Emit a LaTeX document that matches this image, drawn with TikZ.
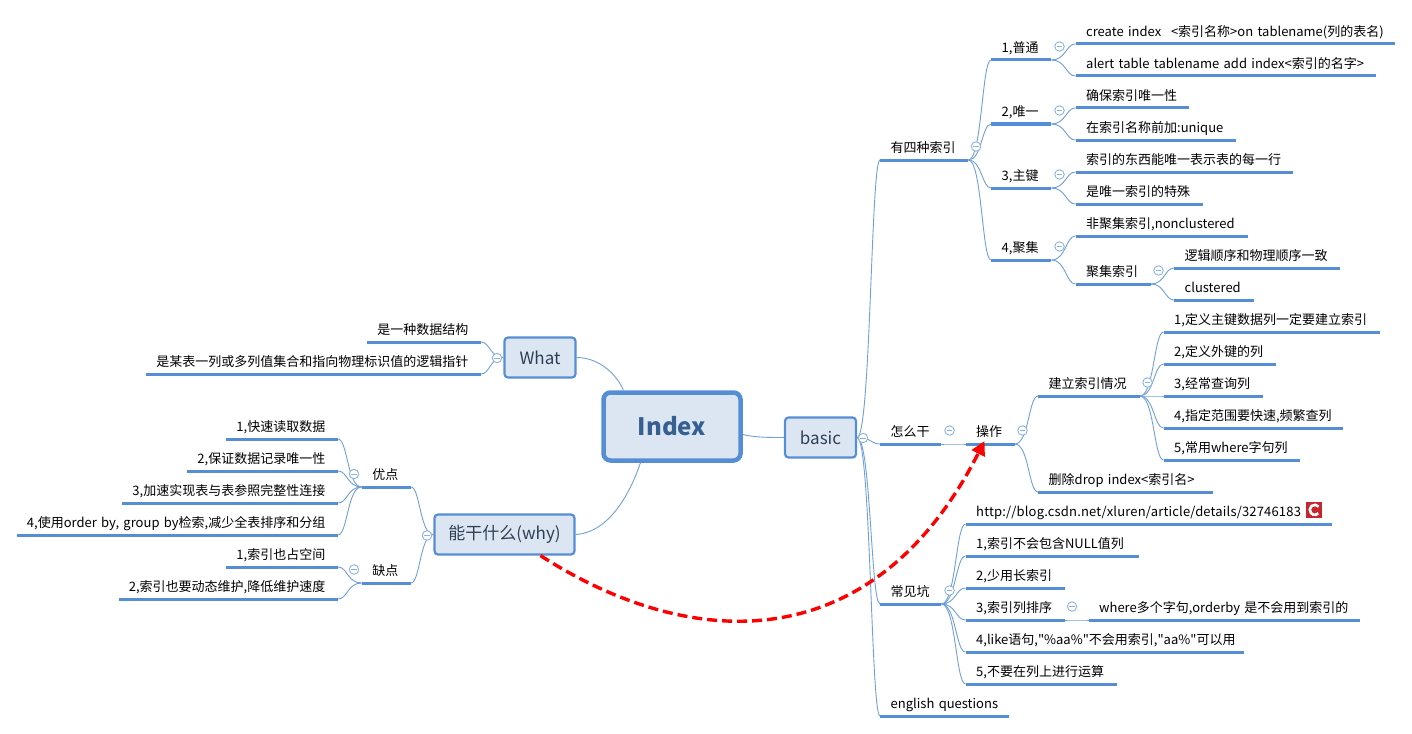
\documentclass[tikz,border=0pt]{standalone}
\usepackage{fontspec}
\setmainfont{Noto Sans CJK SC}[WordSpace=1.5]
\newfontfamily\qfont{Noto Sans CJK SC}
\newcommand{\squote}{{\qfont"}}
\newcommand{\wider}[1]{\addfontfeature{LetterSpace=#1}}
\usetikzlibrary{arrows.meta,calc}
\definecolor{mmblue}{HTML}{558ED5}
\definecolor{mmlink}{HTML}{6F9FDC}
\definecolor{mmfill}{HTML}{DCE6F2}
\definecolor{mmcirc}{HTML}{8FB2E0}
\definecolor{mmtitle}{HTML}{376092}
\definecolor{mmbox}{HTML}{2F3F55}
\definecolor{csdnred}{HTML}{C8262F}
\tikzset{
  leaf/.style={inner sep=0pt,text height=14pt,text depth=7pt,font=\fontsize{13}{15}\selectfont,text=black},
  topbar/.style={draw=mmblue,line width=3pt},
  thin link/.style={draw=mmlink,line width=0.9pt},
  subbox/.style={draw=mmblue,fill=mmfill,rounded corners=3.5pt,line width=2.2pt,inner sep=0pt,font=\fontsize{17}{20}\selectfont,text=mmbox},
  mainbox/.style={draw=mmblue,fill=mmfill,rounded corners=7pt,line width=4.5pt,inner sep=0pt,font=\fontsize{24}{28}\selectfont\bfseries,text=mmtitle},
  collapse/.style={circle,draw=mmcirc,fill=white,line width=0.9pt,minimum size=9.5pt,inner sep=0pt,
    path picture={\draw[mmcirc,line width=0.9pt] ($(path picture bounding box.center)+(-2.6pt,0)$)--($(path picture bounding box.center)+(2.6pt,0)$);}},
  relation/.style={draw=red,line width=3.4pt,dash pattern=on 10pt off 5pt,-{Triangle[length=14pt,width=14pt,fill=red]}},
  csdnicon/.style={fill=csdnred,inner sep=0pt,minimum size=16pt},
}
% right-growing topic: name, bar start, bar end, bar y, text
\newcommand{\rtopic}[5]{%
  \pgfmathsetlengthmacro{\tw}{#3-#2}%
  \node[leaf,anchor=south west] (#1) at (#2,#4) {\hbox to \tw{\kern10.5pt #5\hss}};
  \draw[topbar] (#1.south west)--(#1.south east);}
% left-growing topic
\newcommand{\ltopic}[5]{%
  \pgfmathsetlengthmacro{\tw}{#3-#2}%
  \node[leaf,anchor=south east] (#1) at (#3,#4) {\hbox to \tw{\hss #5\kern12.5pt}};
  \draw[topbar] (#1.south west)--(#1.south east);}
\newcommand{\flink}[2]{%
  \draw[thin link] let \p1=(#1),\p2=(#2) in (\p1) .. controls ({0.4*\x1+0.6*\x2},\y1) and ({0.4*\x1+0.6*\x2},\y2) .. (\p2);}
\newcommand{\rlinks}[2]{\foreach \c in {#2}{\flink{#1}{\c.south west}}}
\newcommand{\llinks}[2]{\foreach \c in {#2}{\flink{#1}{\c.south east}}}
\begin{document}
\begin{tikzpicture}[x=1pt,y=-1pt]
\useasboundingbox (0,0) rectangle (1412,733);
% central
\node[mainbox,minimum width=137pt,minimum height=68pt] (index) at (672,426.5) {Index};
\node[subbox,minimum width=71pt,minimum height=40pt] (basic) at (820.5,437.5) {basic};
\node[subbox,minimum width=71pt,minimum height=40pt] (what) at (540,357.5) {What};
\node[subbox,minimum width=140pt,minimum height=40pt] (why) at (504.5,534.5) {\raisebox{-1.5pt}{能干什么(why)}};
\draw[thin link] (what.east) .. controls +(23,0) and +(-6,-15) .. ($(index.north west)!.156!(index.north east)$);
\draw[thin link] (why.east) .. controls +(35,-2) and +(-9,27) .. ($(index.south west)!.277!(index.south east)$);
\draw[thin link] ($(index.east)+(0,8)$) .. controls +(12,3) and +(-14,0) .. (basic.west);
% first level right
\rtopic{t4}{880}{968}{160}{有四种索引}
\rtopic{how}{880}{941}{444}{怎么干}
\rtopic{pit}{880}{941}{604}{常见坑}
\rtopic{eng}{880}{1009}{716}{english questions}
\rlinks{basic.east}{t4,how,pit,eng}
% four kinds
\rtopic{k1}{991}{1051}{60}{1,普通}
\rtopic{k2}{991}{1051}{124}{2,唯一}
\rtopic{k3}{991}{1051}{188}{3,主键}
\rtopic{k4}{991}{1051}{260}{4,聚集}
\rlinks{t4.south east}{k1,k2,k3,k4}
\rtopic{a1}{1075.5}{1394.5}{44}{create index\ \kern1pt\ <索引名称>on tablename(列的表名)}
\rtopic{a2}{1075.5}{1376}{76}{alert table tablename add index<索引的名字>}
\rlinks{k1.south east}{a1,a2}
\rtopic{b1}{1075.5}{1189}{108}{确保索引唯一性}
\rtopic{b2}{1075.5}{1236}{140}{在索引名称前加:unique}
\rlinks{k2.south east}{b1,b2}
\rtopic{c1}{1075.5}{1293}{172}{索引的东西能唯一表示表的每一行}
\rtopic{c2}{1075.5}{1203}{204}{是唯一索引的特殊}
\rlinks{k3.south east}{c1,c2}
\rtopic{d1}{1075.5}{1247.5}{236}{非聚集索引,nonclustered}
\rtopic{d2}{1075.5}{1150.5}{284}{聚集索引}
\rlinks{k4.south east}{d1,d2}
\rtopic{e1}{1174}{1340}{268}{逻辑顺序和物理顺序一致}
\rtopic{e2}{1174}{1254}{300}{clustered}
\rlinks{d2.south east}{e1,e2}
% how
\rtopic{op}{965.5}{1014.5}{444}{操作}
\flink{how.south east}{op.south west}
\rtopic{build}{1038}{1139.5}{396}{建立索引情况}
\rtopic{del}{1038}{1212.5}{492}{删除drop index<索引名>}
\rlinks{op.south east}{build,del}
\rtopic{f1}{1163.5}{1379.5}{332}{1,定义主键数据列一定要建立索引}
\rtopic{f2}{1163.5}{1275.5}{364}{2,定义外键的列}
\rtopic{f3}{1163.5}{1263}{396}{3,经常查询列}
\rtopic{f4}{1163.5}{1343}{428}{4,指定范围要快速,频繁查列}
\rtopic{f5}{1163.5}{1299.5}{460}{5,常用where字句列}
\rlinks{build.south east}{f1,f2,f3,f4,f5}
% pits
\rtopic{p0}{965.5}{1331.5}{524}{\wider{1.3}http://blog.csdn.net/xluren/article/details/32746183}
\rtopic{p1}{965.5}{1138.5}{556}{1,索引不会包含NULL值列}
\rtopic{p2}{965.5}{1064.5}{588}{2,少用长索引}
\rtopic{p3}{965.5}{1064.5}{620}{3,索引列排序}
\rtopic{p4}{965.5}{1243.5}{652}{4,like语句,\squote\%aa\%\squote 不会用索引,\squote aa\%\squote 可以用}
\rtopic{p5}{965.5}{1116.5}{684}{5,不要在列上进行运算}
\rlinks{pit.south east}{p0,p1,p2,p3,p4,p5}
\rtopic{p31}{1088.5}{1360}{620}{where多个字句,orderby 是不会用到索引的}
\flink{p3.south east}{p31.south west}
\node[csdnicon] (csdn) at (1314,510) {};
\draw[white,line width=2.6pt] ($(csdn.center)+(4.6,-3.4)$) arc[start angle=40,end angle=315,radius=5pt];
% what
\ltopic{w1}{367}{481}{342}{是一种数据结构}
\ltopic{w2}{146}{481}{374}{是某表一列或多列值集合和指向物理标识值的逻辑指针}
\llinks{what.west}{w1,w2}
% why
\ltopic{good}{362}{411}{487}{优点}
\ltopic{bad}{362}{411}{583}{缺点}
\llinks{why.west}{good,bad}
\ltopic{g1}{226}{338}{439}{1,快速读取数据}
\ltopic{g2}{187}{338}{471}{2,保证数据记录唯一性}
\ltopic{g3}{122}{338}{503}{3,加速实现表与表参照完整性连接}
\ltopic{g4}{17}{338}{535}{4,使用order by, group by检索,减少全表排序和分组}
\llinks{good.south west}{g1,g2,g3,g4}
\ltopic{h1}{226}{338}{567}{1,索引也占空间}
\ltopic{h2}{119}{338}{599}{2,索引也要动态维护,降低维护速度}
\llinks{bad.south west}{h1,h2}
% collapse markers
\node[collapse] (m1) at (863,438) {};
\node[collapse] (m2) at (497,358) {};
\node[collapse] (m3) at (427,535.5) {};
\node[collapse] (m4) at (976,146.5) {};
\node[collapse] (m5) at (1059.5,46.5) {};
\node[collapse] (m6) at (1059.5,110.5) {};
\node[collapse] (m7) at (1059.5,174.5) {};
\node[collapse] (m8) at (1059.5,246.5) {};
\node[collapse] (m9) at (1158.5,270.5) {};
\node[collapse] (m10) at (949.5,430.5) {};
\node[collapse] (m11) at (1022.5,430.5) {};
\node[collapse] (m12) at (1147.5,382.5) {};
\node[collapse] (m13) at (949.5,590.5) {};
\node[collapse] (m14) at (1072,606.5) {};
\node[collapse] (m15) at (354,474) {};
\node[collapse] (m16) at (354,569.5) {};
% relationship
\coordinate (rstart) at ($(why.south)+(36,0)$);
\coordinate (rend) at ($(op.south west)+(19,-3)$);
\draw[relation] (rstart) .. controls (695,655) and (875,657) .. (rend);
\end{tikzpicture}
\end{document}
